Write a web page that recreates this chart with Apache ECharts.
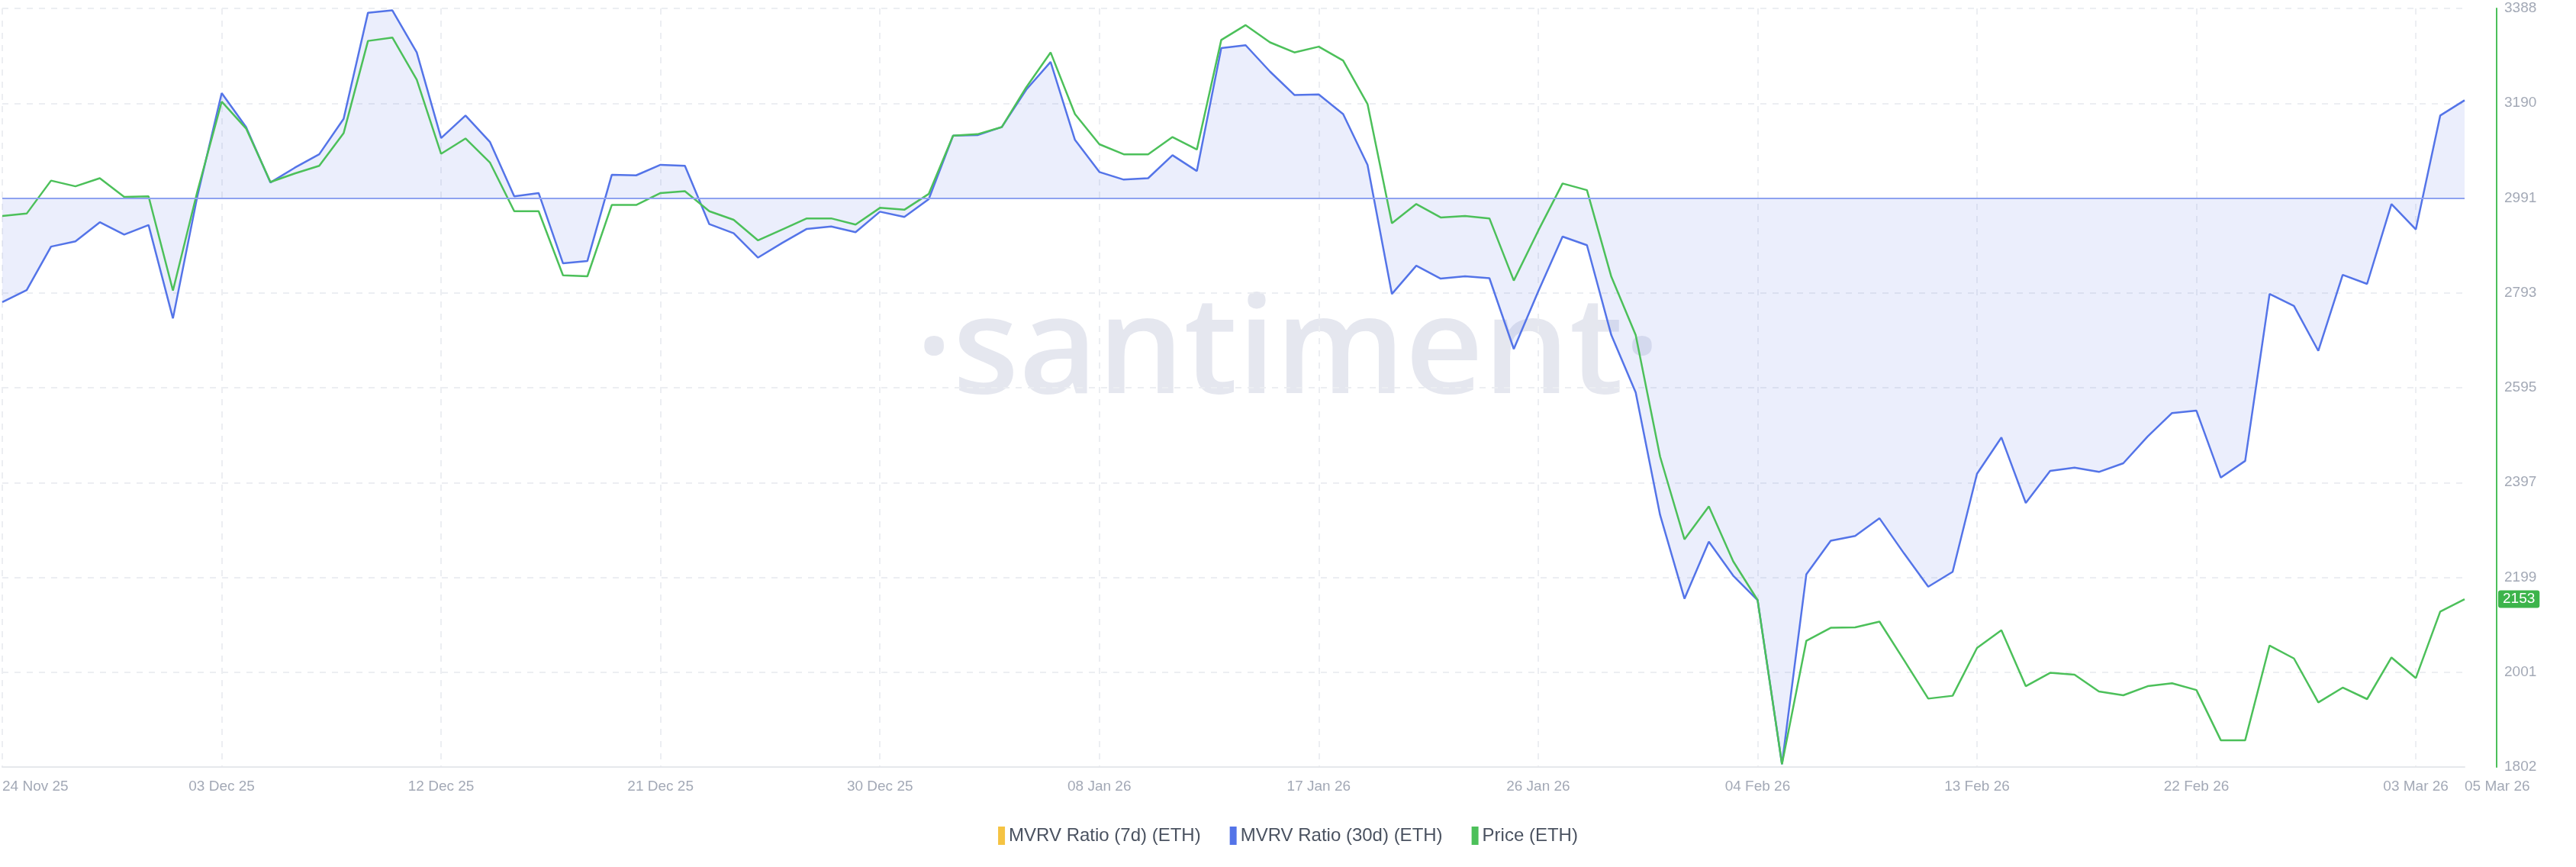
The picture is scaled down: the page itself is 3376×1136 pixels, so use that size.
<!DOCTYPE html>
<html>
<head>
<meta charset="UTF-8" />
<title>MVRV ETH</title>
<script src="https://cdn.jsdelivr.net/npm/echarts@6/dist/echarts.min.js"></script>
<style>
  html, body { margin: 0; padding: 0; background: #fff; }
  #main { width: 3376px; height: 1136px; }
</style>
</head>
<body>
<div id="main"></div>
<script>
// daily dates 24 Nov 25 .. 05 Mar 26
var months = ['Jan', 'Feb', 'Mar', 'Apr', 'May', 'Jun', 'Jul', 'Aug', 'Sep', 'Oct', 'Nov', 'Dec'];
var dates = [];
for (var d = new Date(Date.UTC(2025, 10, 24)); d <= new Date(Date.UTC(2026, 2, 5)); d.setUTCDate(d.getUTCDate() + 1)) {
    dates.push(('0' + d.getUTCDate()).slice(-2) + ' ' + months[d.getUTCMonth()] + ' ' + String(d.getUTCFullYear()).slice(-2));
}

var priceEth = [2954, 2959, 3028, 3016, 3033, 2994, 2995, 2798, 3005, 3193,
    3137, 3025, 3043, 3059, 3127, 3320, 3327, 3239, 3084, 3116,
    3066, 2964, 2964, 2830, 2828, 2977, 2977, 3002, 3006, 2964,
    2946, 2903, 2926, 2949, 2949, 2936, 2971, 2967, 3000, 3122,
    3125, 3140, 3223, 3296, 3167, 3104, 3083, 3083, 3119, 3093,
    3322, 3353, 3317, 3296, 3308, 3279, 3188, 2939, 2979, 2951,
    2954, 2949, 2819, 2923, 3022, 3008, 2827, 2705, 2451, 2278,
    2347, 2232, 2151, 1808, 2066, 2093, 2094, 2106, 2026, 1945,
    1951, 2051, 2088, 1971, 1999, 1995, 1960, 1952, 1971, 1977,
    1963, 1858, 1858, 2056, 2029, 1937, 1968, 1944, 2031, 1988,
    2127, 2153];

// MVRV 30d, drawn on a hidden axis scaled like the price axis (2991 = ratio 1)
var mvrv30 = [2774, 2799, 2890, 2901, 2941, 2915, 2935, 2740, 2995, 3211,
    3140, 3024, 3055, 3083, 3157, 3379, 3384, 3296, 3117, 3164,
    3109, 2995, 3002, 2855, 2860, 3040, 3039, 3061, 3059, 2937,
    2918, 2867, 2898, 2927, 2932, 2920, 2963, 2952, 2989, 3122,
    3123, 3140, 3218, 3276, 3113, 3046, 3030, 3033, 3081, 3048,
    3305, 3311, 3256, 3207, 3208, 3167, 3061, 2791, 2850, 2823,
    2828, 2824, 2676, 2796, 2911, 2893, 2705, 2585, 2329, 2154,
    2273, 2202, 2151, 1808, 2205, 2275, 2285, 2322, 2249, 2179,
    2210, 2415, 2491, 2354, 2421, 2428, 2419, 2437, 2493, 2542,
    2547, 2407, 2442, 2791, 2766, 2672, 2831, 2812, 2979, 2926,
    3164, 3196];

var mvrv7 = [];
var yTicks = ['1802', '2001', '2199', '2397', '2595', '2793', '2991', '3190', '3388'];
var mvrvBase = 2991;
var lastPrice = 2153;

var labelFont = { color: '#a3a9b6', fontSize: 19, fontFamily: 'Arial, Liberation Sans' };
function showTick(i) { return i % 9 === 0 || i === dates.length - 1; }

var myChart = echarts.init(document.getElementById('main'));
myChart.setOption({
    animation: false,
    backgroundColor: '#fff',
    grid: { left: 0, right: 146, top: 11, bottom: 131 },
    graphic: [{
        type: 'text', left: 'center', top: 375,
        style: { text: '·santiment·', fontSize: 178, fontWeight: 600, fontFamily: 'Open Sans', fill: '#e5e7ef' },
        z: -1
    }],
    legend: {
        bottom: 24, left: 'center', icon: 'rect', itemWidth: 9, itemHeight: 24, itemGap: 38,
        textStyle: { color: '#4a5260', fontSize: 24, fontFamily: 'Arial, Liberation Sans' },
        data: ['MVRV Ratio (7d) (ETH)', 'MVRV Ratio (30d) (ETH)', 'Price (ETH)']
    },
    xAxis: {
        type: 'category', data: dates, boundaryGap: false,
        axisLine: { lineStyle: { color: '#e6e8ec', width: 2 } },
        axisTick: { show: false },
        axisLabel: Object.assign({ interval: function (i) { return showTick(i); }, margin: 16, alignMinLabel: 'left', alignMaxLabel: 'left', hideOverlap: false }, labelFont),
        splitLine: { show: true, interval: function (i) { return i % 9 === 0; }, lineStyle: { color: '#eceef2', type: [8, 8], width: 2 } }
    },
    yAxis: [{
        type: 'value', position: 'right', offset: 42, min: 1802, max: 3388, interval: 198.25,
        axisLine: { show: true, lineStyle: { color: '#4cc05a', width: 2 } },
        axisTick: { show: false },
        axisLabel: Object.assign({ margin: 10, formatter: function (v, i) { return yTicks[i]; } }, labelFont),
        splitLine: { lineStyle: { color: '#eceef2', type: [8, 8], width: 2 } },
        axisPointer: {
            show: true, value: lastPrice, status: 'show', triggerTooltip: false,
            lineStyle: { opacity: 0 },
            label: { backgroundColor: '#3cb44b', color: '#fff', fontSize: 19, padding: [2, 6], margin: 2, formatter: function (p) { return Math.round(p.value); } }
        }
    }, {
        type: 'value', show: false, min: 1802, max: 3388
    }],
    series: [{
        name: 'MVRV Ratio (7d) (ETH)', type: 'line', data: mvrv7, itemStyle: { color: '#f5c342' }
    }, {
        name: 'MVRV Ratio (30d) (ETH)', type: 'line', yAxisIndex: 1, data: mvrv30, symbol: 'none',
        itemStyle: { color: '#5474e8' }, lineStyle: { color: '#5474e8', width: 2.5 },
        areaStyle: { origin: mvrvBase, color: 'rgba(112,138,235,0.2)' },
        markLine: {
            silent: true, symbol: 'none', label: { show: false },
            lineStyle: { color: '#8ea2f0', type: 'solid', width: 2 },
            data: [{ yAxis: mvrvBase }]
        }
    }, {
        name: 'Price (ETH)', type: 'line', data: priceEth, symbol: 'none', z: 3,
        itemStyle: { color: '#4cc05a' }, lineStyle: { color: '#4cc05a', width: 2.5 }
    }]
});
</script>
</body>
</html>
